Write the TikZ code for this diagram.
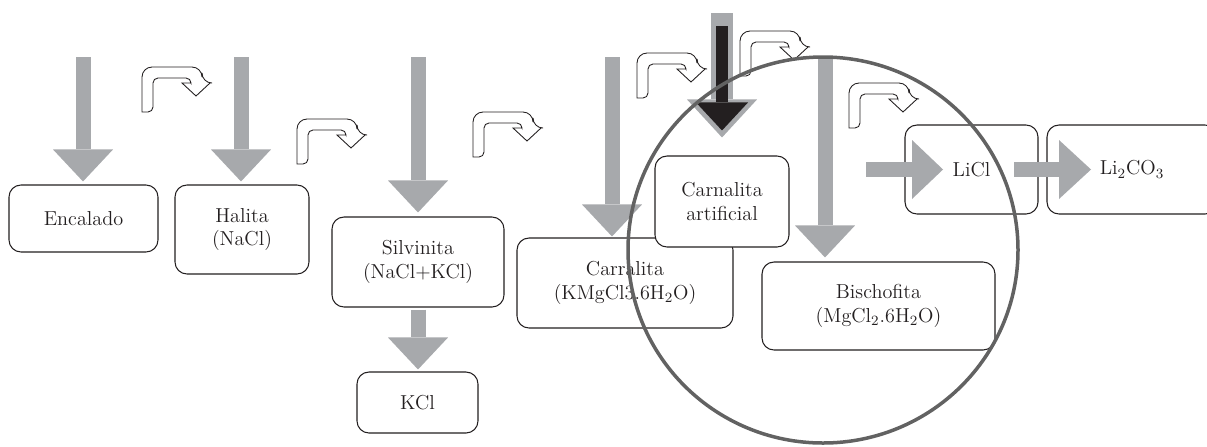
\documentclass[tikz,border=0pt]{standalone}
\usepackage{amsmath}
\usepackage{tikz}
\usetikzlibrary{arrows.meta,positioning}

\definecolor{flowgray}{RGB}{167,169,172}
\definecolor{inkblack}{RGB}{35,31,32}
\definecolor{ringgray}{RGB}{98,98,98}

\begin{document}
\begin{tikzpicture}[%
    x=0.2mm, y=-0.2mm,
    box/.style={draw=inkblack, line width=0.6pt, rounded corners=2.4mm, fill=white,
        align=center, inner sep=0pt, text=inkblack,
        font=\fontsize{11.5}{13.5}\selectfont},
    flow/.style={draw=flowgray, line width=3mm,
        -{Triangle[width=12mm,length=6.4mm,line width=0pt 0]}},
    uturn/.pic={
        \draw[draw=inkblack, fill=white, line width=0.5pt]
            (0,45) [rounded corners=2mm] -- (0,0) -- (60,0) -- (60,16)
            [sharp corners] -- (68,16) -- (54,29) -- (40,16) -- (49,16)
            [rounded corners=1mm] -- (49,11) -- (11,11) -- (11,45)
            [sharp corners] -- cycle;
    }
    ]

    \useasboundingbox (0,0) rectangle (1207,446);

    % boxes
    \node[box, minimum width=29.8mm, minimum height=13.4mm] (encalado) at (83.5,218.5) {Encalado};
    \node[box, minimum width=26.8mm, minimum height=17.8mm] (halita) at (242,229.5) {Halita\\(NaCl)};
    \node[box, minimum width=34.4mm, minimum height=18mm] (silvinita) at (418,262) {Silvinita\\(NaCl+KCl)};
    \node[box, minimum width=24.2mm, minimum height=12.2mm] (kcl) at (417.5,402.5) {KCl};
    \node[box, minimum width=43.2mm, minimum height=18mm] (carralita) at (625,283) {Carralita\\(KMgCl3.6H\textsubscript{2}O)};
    \node[box, minimum width=26.8mm, minimum height=18.2mm] (artificial) at (722,201.5) {Carnalita\\artificial};
    \node[box, minimum width=46.6mm, minimum height=17.6mm] (bischofita) at (878.5,306) {Bischofita\\(MgCl\textsubscript{2}.6H\textsubscript{2}O)};
    \node[box, minimum width=26.6mm, minimum height=17.8mm] (licl) at (971.5,169.5) {LiCl};
    \node[box, minimum width=34mm, minimum height=17.8mm] (lico) at (1132,169.5) {Li\textsubscript{2}CO\textsubscript{3}};

    % feeds
    \coordinate (encin) at (83,57);
    \coordinate (halin) at (241,57);
    \coordinate (silvin) at (418,57);
    \coordinate (carrin) at (612,57);
    \coordinate (bischin) at (825,57);
    \coordinate (artin) at (722,13);
    \coordinate (artinb) at (722,26);
    \coordinate (liin) at (866,169.5);
    \coordinate (liout) at (943,169.5);
    \coordinate (coin) at (1014,169.5);
    \coordinate (coout) at (1091,169.5);

    \draw[flow, shorten >=0.6mm] (encin) -- (encin |- encalado.north);
    \draw[flow, shorten >=0.6mm] (halin) -- (halin |- halita.north);
    \draw[flow, shorten >=0.8mm] (silvin) -- (silvin |- silvinita.north);
    \draw[flow, shorten <=0.4mm, shorten >=0.4mm] (silvinita.south) -- (silvinita.south |- kcl.north);
    \draw[flow, shorten >=0.2mm] (carrin) -- (carrin |- carralita.north);
    \draw[flow, shorten >=0.8mm] (bischin) -- (bischin |- bischofita.north);

    \draw[draw=flowgray, line width=4.4mm, shorten >=3.6mm,
        -{Triangle[width=14mm,length=7.6mm,line width=0pt 0]}] (artin) -- (artificial.north);
    \draw[draw=inkblack, line width=2.4mm, shorten >=5mm,
        -{Triangle[width=10.4mm,length=5.6mm,line width=0pt 0]}] (artinb) -- (artificial.north);

    \draw[flow, -{Triangle[width=11.8mm,length=6.2mm,line width=0pt 0]}] (liin) -- (liout);
    \draw[flow, -{Triangle[width=11.8mm,length=6.4mm,line width=0pt 0]}] (coin) -- (coout);

    % turning arrows
    \pic at (142,67) {uturn};
    \pic at (297,119) {uturn};
    \pic at (473,112) {uturn};
    \pic at (637,53) {uturn};
    \pic at (740,31) {uturn};
    \pic at (849,83) {uturn};

    \draw[ringgray, line width=0.7mm] (823,250) ellipse [x radius=195, y radius=193];

\end{tikzpicture}
\end{document}
